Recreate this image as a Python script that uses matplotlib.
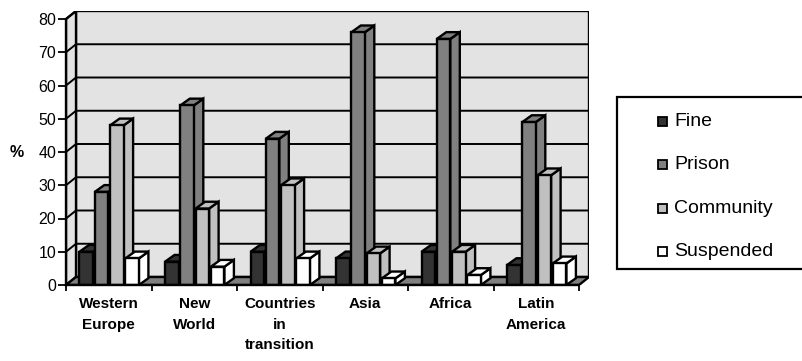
import matplotlib.pyplot as plt
from matplotlib.patches import Polygon, Rectangle

plt.rcParams['font.family'] = ['Liberation Sans', 'DejaVu Sans']

regions = ['Western\nEurope', 'New\nWorld', 'Countries\nin\ntransition',
           'Asia', 'Africa', 'Latin\nAmerica']
sentences = ['Fine', 'Prison', 'Community', 'Suspended']
fine = [10, 7, 10, 8, 10, 6]
prison = [28, 54, 44, 76, 74, 49]
community = [48, 23, 30, 9.5, 10, 33]
suspended = [8, 5.5, 8, 2, 3, 6.5]
colours = ['#333333', '#808080', '#c0c0c0', '#ffffff']
series = [fine, prison, community, suspended]

W, H = 803, 361
fig = plt.figure(figsize=(W / 100, H / 100), dpi=100)

# front plane spans 66..579 px across, 0..80 from 285 up to 19 px;
# the back wall sits 10 px right and 8 px up
px_x = (579 - 66) / 6
px_y = (285 - 19) / 80
dx = 10 / px_x
dy = 8 / px_y
ax = fig.add_axes([66 / W, (H - 285) / H, (579 - 66 + 10) / W, (285 - 19 + 8) / H])
ax.set_xlim(0, 6 + dx)
ax.set_ylim(0, 80 + dy)
ax.patch.set_visible(False)

wall = '#e3e3e3'
lw = 1.7
# back wall, side wall and floor
ax.add_patch(Polygon([(dx, dy), (6 + dx, dy), (6 + dx, 80 + dy), (dx, 80 + dy)],
                     fc=wall, ec='k', lw=lw, zorder=0.5))
ax.add_patch(Polygon([(0, 0), (dx, dy), (dx, 80 + dy), (0, 80)],
                     fc=wall, ec='k', lw=lw, zorder=0.5))
for v in range(10, 90, 10):
    ax.plot([0, dx, 6 + dx], [v, v + dy, v + dy], color='k', lw=1.4, zorder=0.6)
ax.add_patch(Polygon([(0, 0), (6, 0), (6 + dx, dy), (dx, dy)],
                     fc='#808080', ec='k', lw=lw, zorder=0.7))

# columns: front face via ax.bar, top and side faces as parallelograms
bw = 13.5 / px_x
bdx, bdy = dx * 0.95, dy * 0.85
for j, (vals, c) in enumerate(zip(series, colours)):
    lefts = [i + (13.5 + 15.3 * j) / px_x for i in range(len(vals))]
    z = 2 + j * 0.1
    for l, h in zip(lefts, vals):
        ax.add_patch(Polygon([(l + bw, 0), (l + bw + bdx, bdy), (l + bw + bdx, h + bdy), (l + bw, h)],
                             fc=c, ec='k', lw=lw, zorder=z, joinstyle='miter'))
        ax.add_patch(Polygon([(l, h), (l + bw, h), (l + bw + bdx, h + bdy), (l + bdx, h + bdy)],
                             fc=c, ec='k', lw=lw, zorder=z, joinstyle='miter'))
    ax.bar(lefts, vals, width=bw, align='edge', color=c, edgecolor='k',
           linewidth=lw, zorder=z + 0.05, label=sentences[j])

# axes
for s in ['top', 'right']:
    ax.spines[s].set_visible(False)
ax.spines['left'].set_bounds(0, 80)
ax.spines['bottom'].set_bounds(0, 6)
ax.spines['left'].set_linewidth(lw)
ax.spines['bottom'].set_linewidth(lw)
ax.spines['left'].set_zorder(3)
ax.spines['bottom'].set_zorder(3)

ax.set_yticks(range(0, 90, 10))
ax.tick_params(axis='y', length=5.5, width=1.3, pad=1.5, labelsize=11.5)
ax.set_xticks(range(7))
ax.set_xticklabels([''] * 7)
ax.set_xticks([i + 0.5 for i in range(6)], minor=True)
ax.set_xticklabels(regions, minor=True, fontsize=11, fontweight='bold')
ax.tick_params(axis='x', which='major', length=4.5, width=1.3)
ax.tick_params(axis='x', which='minor', length=0, pad=9)
for t in ax.get_xticklabels(minor=True):
    t.set_linespacing(1.55)
    t.set_verticalalignment('top')

fig.text(17 / W, 1 - 153 / H, '%', fontsize=11.5, fontweight='bold', ha='center', va='center')

# legend box
fig.add_artist(Rectangle((617 / W, 1 - 269 / H), 200 / W, 172 / H, transform=fig.transFigure,
                         fc='white', ec='k', lw=1.6))
rows = [121, 164.5, 208, 251.5]
for name, c, y in zip(sentences, colours, rows):
    fig.add_artist(Rectangle((658 / W, 1 - (y + 4.5) / H), 9 / W, 9 / H, transform=fig.transFigure,
                             fc=c, ec='k', lw=1.3))
    fig.text(674 / W, 1 - y / H, name, fontsize=14, ha='left', va='center')

fig.savefig('out.png', dpi=100)
